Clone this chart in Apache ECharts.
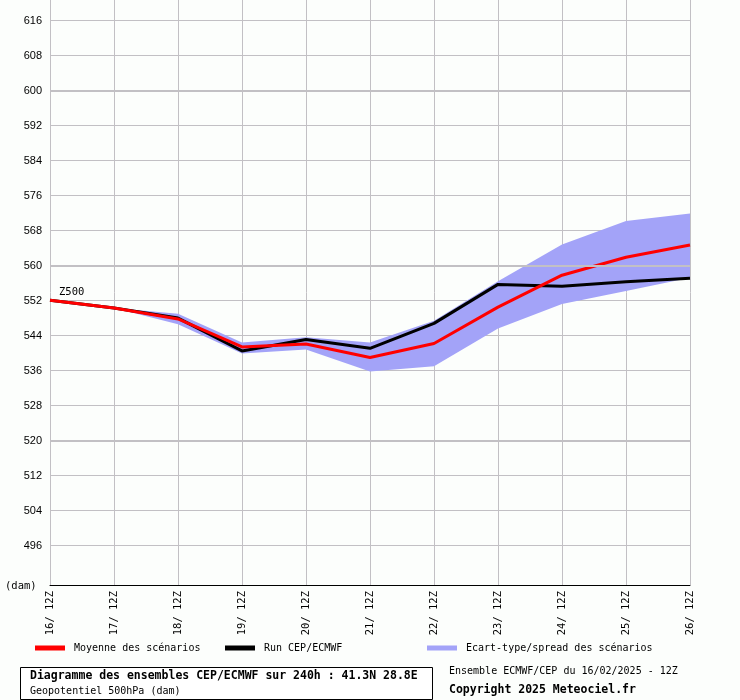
<!DOCTYPE html>
<html>
<head>
<meta charset="utf-8">
<script src="https://cdn.jsdelivr.net/npm/echarts@6/dist/echarts.min.js"></script>
<style>
  html, body { margin: 0; padding: 0; background: #fcfefc; }
  #chart { width: 740px; height: 700px; }
</style>
</head>
<body>
<div id="chart"></div>
<script>
const chart = echarts.init(document.getElementById("chart"));

const days = ["16/ 12Z", "17/ 12Z", "18/ 12Z", "19/ 12Z", "20/ 12Z", "21/ 12Z",
  "22/ 12Z", "23/ 12Z", "24/ 12Z", "25/ 12Z", "26/ 12Z"];
const meanZ500 = [552.1, 550.3, 547.8, 541.4, 542.1, 539.0, 542.2, 550.5, 557.8, 561.9, 564.7];
const runZ500 = [552.1, 550.3, 548.0, 540.5, 543.1, 541.1, 546.8, 555.7, 555.3, 556.3, 557.1];
const spreadLow = [552.1, 550.3, 546.6, 539.9, 540.8, 535.8, 537.0, 545.6, 551.2, 554.2, 557.2];
const spreadHigh = [552.1, 550.3, 549.0, 542.4, 543.6, 542.4, 547.4, 556.4, 564.8, 570.2, 571.9];
const yTicks = [496, 504, 512, 520, 528, 536, 544, 552, 560, 568, 576, 584, 592, 600, 608, 616];
const thickLines = [520, 560, 600];

const MONO = "DejaVu Sans Mono";
const gridColor = "#c2c0c4";

chart.setOption({
  backgroundColor: "#fcfefc",
  animation: false,
  grid: { left: 50, right: 50, top: 0, bottom: 115 },
  xAxis: {
    type: "category",
    data: days,
    boundaryGap: false,
    axisLine: { lineStyle: { color: "#000", width: 1 } },
    axisTick: { show: false },
    axisLabel: { rotate: 90, fontFamily: MONO, fontSize: 10.5, color: "#000", margin: 6 },
    splitLine: { show: true, lineStyle: { color: gridColor, width: 1 } }
  },
  yAxis: {
    type: "value",
    min: 487,
    max: 620.7,
    axisLine: { show: false },
    axisTick: { show: false, customValues: yTicks },
    axisLabel: {
      customValues: yTicks,
      fontFamily: "Liberation Sans", fontSize: 11, color: "#000", margin: 8
    },
    splitLine: { show: true, lineStyle: { color: gridColor, width: 1 } }
  },
  legend: [
    { data: ["Moyenne des scénarios"], left: 35, top: 643 },
    { data: ["Run CEP/ECMWF"], left: 225, top: 643 },
    { data: ["Ecart-type/spread des scénarios"], left: 427, top: 643 }
  ].map(l => Object.assign(l, {
    icon: "rect", itemWidth: 30, itemHeight: 5, selectedMode: false, padding: 0,
    textStyle: { fontFamily: MONO, fontSize: 10, color: "#000", padding: [0, 0, 0, 4] }
  })),
  series: [
    {
      name: "grid-thick",
      type: "line",
      data: [],
      silent: true,
      markLine: {
        symbol: "none", silent: true, label: { show: false },
        lineStyle: { color: gridColor, width: 2, type: "solid" },
        data: thickLines.map(v => ({ yAxis: v }))
      }
    },
    {
      name: "spread-low",
      type: "line",
      stack: "spread",
      data: spreadLow,
      symbol: "none",
      lineStyle: { opacity: 0 },
      silent: true
    },
    {
      name: "Ecart-type/spread des scénarios",
      type: "line",
      stack: "spread",
      data: spreadHigh.map((v, i) => +(v - spreadLow[i]).toFixed(1)),
      symbol: "none",
      itemStyle: { color: "#a3a3f8" },
      lineStyle: { opacity: 0 },
      areaStyle: { color: "#a3a3f8", opacity: 1 },
      silent: true
    },
    {
      name: "Run CEP/ECMWF",
      type: "line",
      data: runZ500,
      symbol: "none",
      itemStyle: { color: "#000" },
      lineStyle: { color: "#000", width: 3 }
    },
    {
      name: "Moyenne des scénarios",
      type: "line",
      data: meanZ500,
      symbol: "none",
      itemStyle: { color: "#ff0000" },
      lineStyle: { color: "#ff0000", width: 3 }
    }
  ],
  graphic: [
    { type: "text", left: 59, top: 287, style: { text: "Z500", fontFamily: MONO, fontSize: 10.5, fill: "#000" } },
    { type: "text", left: 5, top: 581, style: { text: "(dam)", fontFamily: MONO, fontSize: 10.5, fill: "#000" } },
    {
      type: "rect", shape: { x: 20.5, y: 667.5, width: 412, height: 32 },
      style: { fill: "#fff", stroke: "#000", lineWidth: 1 }
    },
    {
      type: "text", left: 30, top: 670,
      style: { text: "Diagramme des ensembles CEP/ECMWF sur 240h : 41.3N 28.8E", fontFamily: MONO, fontSize: 11.5, fontWeight: "bold", fill: "#000" }
    },
    {
      type: "text", left: 30, top: 686,
      style: { text: "Geopotentiel 500hPa (dam)", fontFamily: MONO, fontSize: 10, fill: "#000" }
    },
    {
      type: "text", left: 449, top: 666,
      style: { text: "Ensemble ECMWF/CEP du 16/02/2025 - 12Z", fontFamily: MONO, fontSize: 10, fill: "#000" }
    },
    {
      type: "text", left: 449, top: 684,
      style: { text: "Copyright 2025 Meteociel.fr", fontFamily: MONO, fontSize: 11.5, fontWeight: "bold", fill: "#000" }
    }
  ]
});
</script>
</body>
</html>
